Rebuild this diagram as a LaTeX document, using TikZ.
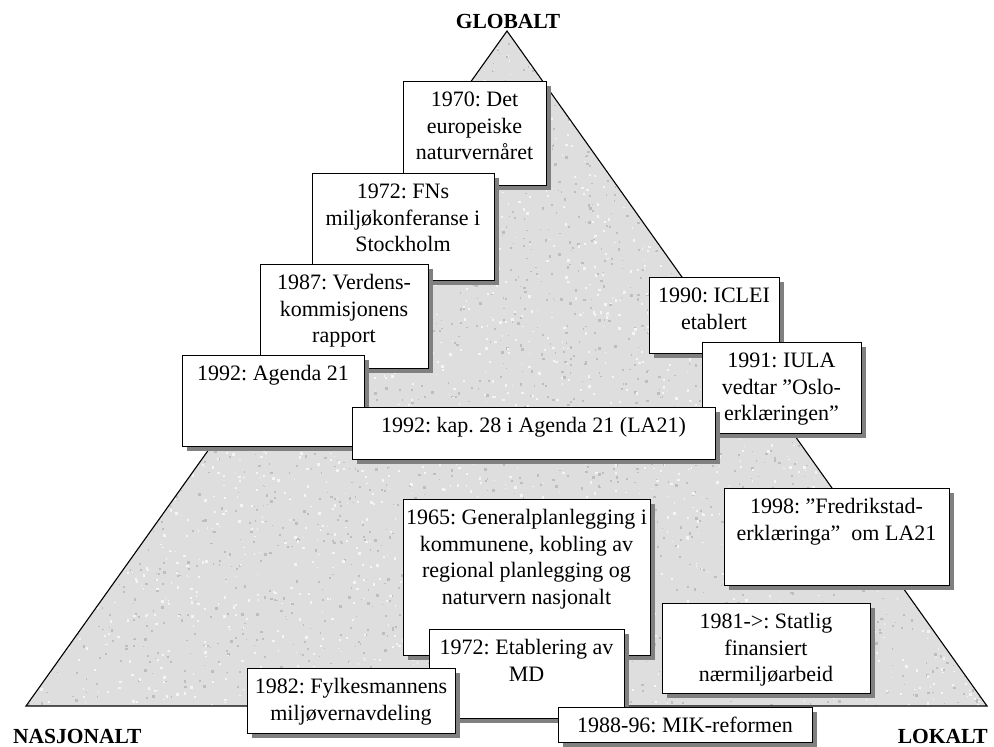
\documentclass[tikz,border=0pt]{standalone}
\usepackage{fontspec}
\setmainfont{Liberation Serif}
\usetikzlibrary{calc,shadows}

\definecolor{trifill}{RGB}{222,222,222}
\definecolor{speckdark}{RGB}{190,190,190}
\definecolor{specklight}{RGB}{244,244,244}
\definecolor{shadowgray}{RGB}{128,128,128}

\tikzset{
  evnode/.style={draw=black, fill=white, line width=0.9pt, inner sep=0pt, outer sep=0pt,
    drop shadow={shadow xshift=5pt, shadow yshift=-5pt, fill=shadowgray, opacity=1}},
  evtext/.style={inner sep=0pt, outer sep=0pt, font=\fontsize{22}{26.5}\selectfont\frenchspacing},
  pole/.style={inner sep=0pt, font=\fontsize{21.5}{26}\selectfont\bfseries},
}

% event box: name, left, top, right, bottom, centred lines (top aligned)
\newcommand\evbox[6]{%
  \node[evnode, minimum width={#4-#2}, minimum height={#5-#3}, anchor=north west] (#1) at (#2,#3) {};
  \node[evtext, anchor=base] (#1-t) at ($(#1.north)+(0,25.5)$)
    {\parbox[t]{400pt}{\centering #6}};
}

\begin{document}
\begin{tikzpicture}[x=1pt, y=-1pt]
\useasboundingbox (0,0) rectangle (994,747);

% granite-like pyramid
\coordinate (apex) at (507,31);
\coordinate (bl) at (26,706);
\coordinate (br) at (987,706);
\begin{scope}
  \clip (apex) -- (bl) -- (br) -- cycle;
  \fill[trifill] (26,31) rectangle (987,706);
  \pgfmathsetseed{11}
  \foreach \i in {1,...,3200}{
    \pgfmathsetmacro\px{26+961*rnd}
    \pgfmathsetmacro\py{31+675*rnd}
    \pgfmathsetmacro\pr{1+1.8*rnd}
    \fill[speckdark] (\px,\py) rectangle ++(\pr,\pr);
  }
  \foreach \i in {1,...,3200}{
    \pgfmathsetmacro\px{26+961*rnd}
    \pgfmathsetmacro\py{31+675*rnd}
    \pgfmathsetmacro\pr{1+1.8*rnd}
    \fill[specklight] (\px,\py) rectangle ++(\pr,\pr);
  }
\end{scope}
\draw[line width=1.1pt, line join=miter] (apex) -- (bl) -- (br) -- cycle;

% poles
\node[pole] (globalt) at (508,21) {GLOBALT};
\node[pole, anchor=base west] (nasjonalt) at (13,743) {NASJONALT};
\node[pole, anchor=base east] (lokalt) at (988,743) {LOKALT};

% global to national column
\evbox{e1970}{403}{81}{546}{185}{1970: Det\\europeiske\\naturvernåret}
\evbox{e1972}{312}{173}{494}{280}{1972: FNs\\miljøkonferanse i\\Stockholm}
\evbox{e1987}{260}{264}{428}{368}{1987: Verdens-\\kommisjonens\\rapport}
\evbox{e1992}{182}{355}{364}{446}{1992: Agenda 21}

% global to local column
\evbox{e1990}{649}{277}{779}{353}{1990: ICLEI\\etablert}
\evbox{e1991}{702}{342}{861}{433}{1991: IULA\\vedtar ”Oslo-\\erklæringen”}
\evbox{la21}{352}{407}{715}{459}{1992: kap. 28 i Agenda 21 (LA21)}
\evbox{e1998}{724}{488}{949}{585}{1998: ”Fredrikstad-\\erklæringa”\ \ om LA21}

% national to local base
\evbox{e1965}{403}{499}{650}{655}{1965: Generalplanlegging i\\kommunene, kobling av\\regional planlegging og\\naturvern nasjonalt}
\evbox{e1981}{662}{603}{870}{693}{1981->: Statlig\\finansiert\\nærmiljøarbeid}
\evbox{md}{429}{629}{624}{718}{1972: Etablering av\\MD}
\evbox{e1982}{247}{668}{455}{733}{1982: Fylkesmannens\\miljøvernavdeling}
\evbox{mik}{558}{707}{812}{742}{1988-96: MIK-reformen}
\end{tikzpicture}
\end{document}
